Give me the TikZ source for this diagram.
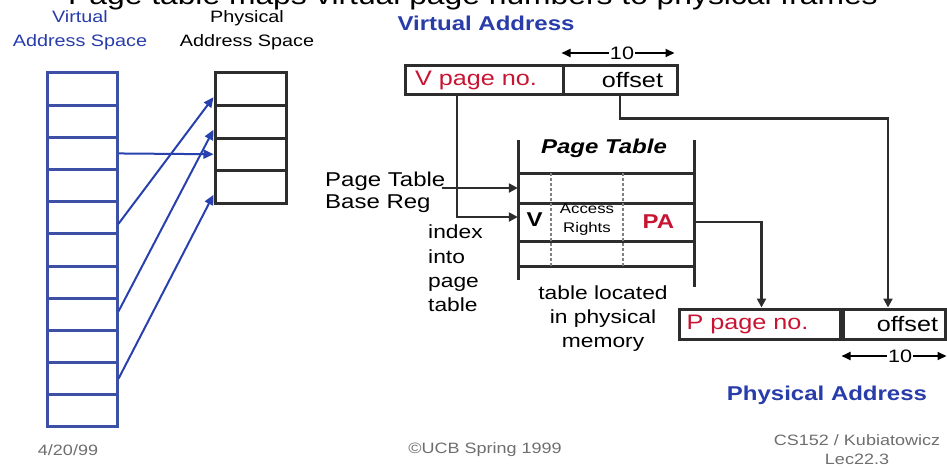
\documentclass[tikz,border=0pt]{standalone}
\usepackage{fontspec}
\setmainfont{Liberation Sans}[FakeStretch=1.2]
\usetikzlibrary{arrows.meta,calc}
\definecolor{bluetext}{RGB}{40,60,170}
\definecolor{blueline}{RGB}{60,80,165}
\definecolor{bluearrow}{RGB}{40,65,175}
\definecolor{redtext}{RGB}{200,20,50}
\definecolor{darkline}{RGB}{45,45,45}
\definecolor{foot}{RGB}{110,110,110}
\newcommand\fsz[2]{\fontsize{#1}{#2}\selectfont}
\tikzset{
  vcell/.style={draw=blueline, line width=3pt, minimum width=70pt, minimum height=32.2pt, inner sep=0pt},
  pcell/.style={draw=darkline, line width=3pt, minimum width=71pt, minimum height=32.5pt, inner sep=0pt},
  abox/.style={draw=darkline, line width=3pt, inner ysep=0pt, font=\fsz{21}{24}},
  tline/.style={darkline, line width=3pt},
  tdiv/.style={gray, line width=1.5pt, densely dashed},
  conn/.style={darkline, line width=2.5pt, -{Triangle[length=9pt,width=9pt]}},
  barrow/.style={bluearrow, line width=2pt, -{Triangle[length=10pt,width=9pt]}},
  dimarrow/.style={black, line width=2pt, -{Triangle[length=9pt,width=8pt]}},
  dimlab/.style={font=\fsz{18}{20}, inner sep=1pt, fill=white},
  lab/.style={font=\fsz{20}{24}, inner sep=0pt},
  foottext/.style={font=\fsz{15}{19}, text=foot, inner sep=0pt, align=center}
}
\begin{document}
\begin{tikzpicture}[x=1pt,y=-1pt]
\useasboundingbox (0,0) rectangle (947,468);
% title (partly cut off at top, as in the reference)
\node[anchor=base, font=\fsz{26.5}{30}, inner sep=0pt] (title) at (473,5) {Page table maps virtual page numbers to physical frames};
% address space labels
\node[font=\fsz{16.5}{24}, text=bluetext, align=center, inner sep=0pt] (vas) at (80,30) {Virtual\\Address Space};
\node[font=\fsz{16.5}{24}, align=center, inner sep=0pt] (pas) at (247,30) {Physical\\Address Space};
% virtual address space column
\foreach \i in {1,...,11} \node[vcell] (v\i) at (82,{73+32.18*(\i-0.5)}) {};
% physical address space column
\foreach \i in {1,...,4} \node[pcell] (p\i) at (250.5,{73+32.5*(\i-0.5)}) {};
% mappings
\draw[barrow] (v3.east) -- (p3.west);
\draw[barrow] ($(v5.east)+(0,6)$) -- ($(p1.west)+(0,8)$);
\draw[barrow] ($(v8.east)+(0,-3)$) -- ($(p2.west)+(0,8)$);
\draw[barrow] (v10.east) -- ($(p4.west)+(0,8)$);
% virtual address
\node[font=\bfseries\fsz{20}{24}, text=bluetext, inner sep=0pt] (valab) at (486,23) {Virtual Address};
\node[abox, text width=138pt, inner xsep=10pt, minimum height=29pt, align=left, text=redtext] (vpn) at (484,80.5) {V page no.};
\node[abox, text width=86pt, inner xsep=14pt, minimum height=29pt, align=right] (voff) at (620,80.5) {offset};
\node[dimlab] (d1) at (622,53) {10};
\draw[dimarrow] (d1.west) -- (d1.west -| voff.west);
\draw[dimarrow] (d1.east) -- ($(d1.east -| voff.east)+(-4,0)$);
% page table
\node[font=\bfseries\itshape\fsz{20}{24}, inner sep=0pt] (pth) at (604,148) {Page Table};
\draw[tline] (518,140) -- (518,280);
\draw[tline] (694,140) -- (694,287);
\foreach \yy in {173,203,241,266} \draw[tline] (518,\yy) -- (694,\yy);
\draw[tdiv] (551,173) -- (551,266);
\draw[tdiv] (623,173) -- (623,266);
\node[minimum width=176pt, minimum height=30pt, inner sep=0pt] (ptr1) at (606,188) {};
\node[minimum width=33pt, minimum height=38pt, inner sep=0pt, font=\bfseries\fsz{20}{24}] (cV) at (534.5,220) {V};
\node[minimum width=72pt, minimum height=38pt, inner sep=0pt, font=\fsz{14}{19}, align=center] (cAR) at (587,220) {Access\\Rights};
\node[minimum width=71pt, minimum height=38pt, inner sep=0pt, font=\bfseries\fsz{20}{24}, text=redtext] (cPA) at (658.5,222) {PA};
% labels left of table
\node[lab, align=left, anchor=west, font=\fsz{20}{22}] (ptbr) at (325,192) {Page Table\\Base Reg};
\coordinate (brs) at (442,188);
\node[lab, align=left, anchor=west, font=\fsz{19}{24.4}] (idx) at (428,268.5) {index\\into\\page\\table};
\node[lab, align=center, font=\fsz{19}{24}] (loc) at (603,319) {table located\\in physical\\memory};
% physical address
\node[abox, text width=150pt, inner xsep=7pt, minimum height=30pt, align=left, text=redtext] (ppn) at (761.5,324) {P page no.};
\node[abox, text width=91pt, inner xsep=7pt, minimum height=30pt, align=right] (poff) at (892.5,324) {offset};
\node[dimlab] (d2) at (900,356) {10};
\draw[dimarrow] (d2.west) -- ($(d2.west -| poff.west)+(3,0)$);
\draw[dimarrow] (d2.east) -- (d2.east -| poff.east);
\node[font=\bfseries\fsz{20}{24}, text=bluetext, inner sep=0pt] (palab) at (827,395) {Physical Address};
% connectors
\coordinate (vx) at (457,0);
\coordinate (ox) at (888,0);
\draw[conn] (brs) -- (brs -| ptr1.west);
\draw[conn] (vpn.south -| vx) |- ($(cV.west)+(0,-3)$);
\draw[conn] (voff.south) |- ($(voff.south)+(268,22)$) -- (poff.north -| ox);
\draw[conn] (cPA.east) -| (ppn.north);
% footer
\node[foottext] (date) at (68,450) {4/20/99};
\node[foottext] (copy) at (485,450) {©UCB Spring 1999};
\node[foottext] (course) at (857,450) {CS152 / Kubiatowicz\\Lec22.3};
\end{tikzpicture}
\end{document}
